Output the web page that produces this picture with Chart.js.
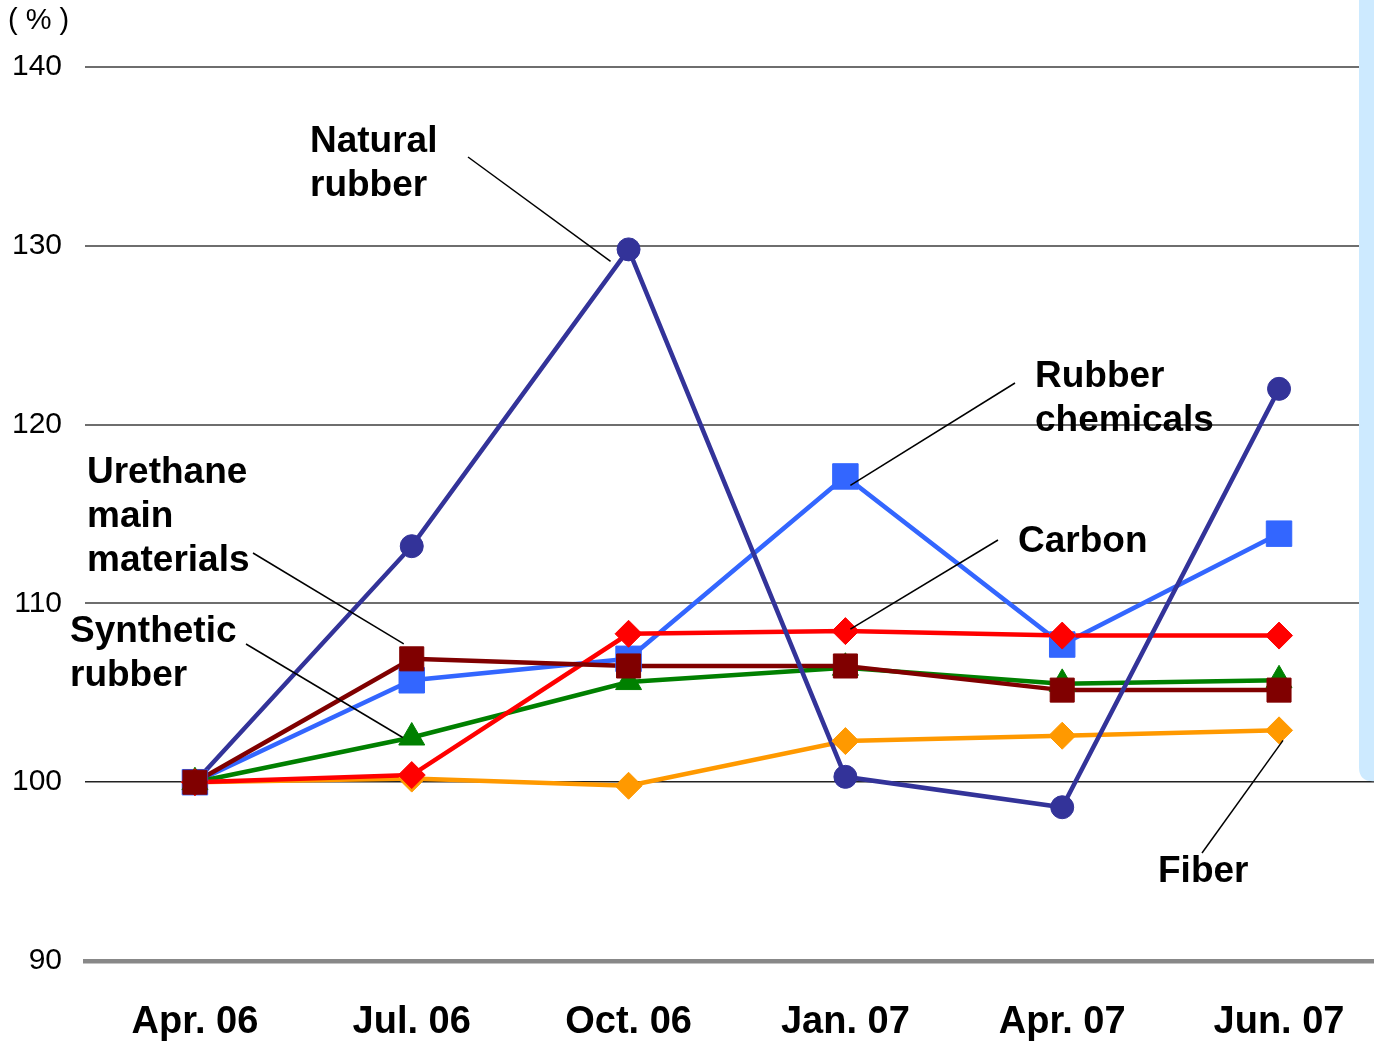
<!DOCTYPE html>
<html>
<head>
<meta charset="utf-8">
<script src="https://cdn.jsdelivr.net/npm/chart.js@4.4.1/dist/chart.umd.min.js"></script>
<style>
  html, body { margin: 0; padding: 0; background: #fff; }
  #wrap { width: 1374px; height: 1042px; position: relative; }
</style>
</head>
<body>
<div id="wrap"><canvas id="chart"></canvas></div>
<script>
// Price index by material, Apr. 06 = 100
const months = ['Apr. 06', 'Jul. 06', 'Oct. 06', 'Jan. 07', 'Apr. 07', 'Jun. 07'];
const naturalRubber = [100, 113.2, 129.8, 100.3, 98.6, 122.0];
const rubberChemicals = [100, 105.7, 106.9, 117.1, 107.7, 113.9];
const carbon = [100, 100.4, 108.3, 108.45, 108.2, 108.2];
const syntheticRubber = [100, 102.5, 105.6, 106.4, 105.5, 105.7];
const urethaneMain = [100, 106.9, 106.5, 106.5, 105.15, 105.15];
const fiber = [100, 100.2, 99.8, 102.3, 102.6, 102.9];
const yTicks = [90, 100, 110, 120, 130, 140];

// markers stacking: first one ends up on top
const series = [
  { name: 'Urethane main materials', data: urethaneMain, color: '#800000', style: 'rect', r: 17 },
  { name: 'Carbon', data: carbon, color: '#ff0000', style: 'rectRot', r: 13.5 },
  { name: 'Synthetic rubber', data: syntheticRubber, color: '#008000', style: 'triangle', r: 15 },
  { name: 'Rubber chemicals', data: rubberChemicals, color: '#3366ff', style: 'rect', r: 18 },
  { name: 'Natural rubber', data: naturalRubber, color: '#333399', style: 'circle', r: 11.5 },
  { name: 'Fiber', data: fiber, color: '#ff9900', style: 'rectRot', r: 13.5 }
];
// lines: natural rubber drawn over the other lines
const lineOrder = { 'Natural rubber': 10, 'Urethane main materials': 11, 'Carbon': 12,
  'Synthetic rubber': 13, 'Rubber chemicals': 14, 'Fiber': 15 };

const toXY = arr => arr.map((v, i) => ({ x: i, y: v }));

const datasets = [];
series.forEach((s, k) => {
  datasets.push({
    label: s.name,
    data: toXY(s.data),
    borderColor: s.color,
    borderWidth: 4.5,
    pointRadius: 0,
    pointHoverRadius: 0,
    order: lineOrder[s.name]
  });
  datasets.push({
    label: s.name + ' markers',
    data: toXY(s.data),
    showLine: false,
    backgroundColor: s.color,
    borderColor: s.color,
    pointStyle: s.style,
    pointRadius: s.r,
    pointHoverRadius: s.r,
    pointBorderWidth: 1,
    order: k
  });
});

// callouts: text block + leader line to a data point
const callouts = [
  { lines: ['Natural', 'rubber'], x: 310, y: 152, from: [468, 157], series: 'Natural rubber', idx: 2, off: [-18, 12] },
  { lines: ['Rubber', 'chemicals'], x: 1035, y: 387, from: [1015, 383], series: 'Rubber chemicals', idx: 3, off: [5, 9] },
  { lines: ['Carbon'], x: 1018, y: 552, from: [998, 540], series: 'Carbon', idx: 3, off: [5, -2] },
  { lines: ['Urethane', 'main', 'materials'], x: 87, y: 483, from: [253, 553], series: 'Urethane main materials', idx: 1, off: [-8, -15] },
  { lines: ['Synthetic', 'rubber'], x: 70, y: 642, from: [246, 644], series: 'Synthetic rubber', idx: 1, off: [-9, 0] },
  { lines: ['Fiber'], x: 1158, y: 882, from: [1202, 853], series: 'Fiber', idx: 5, off: [4, 10] }
];

const slidePanel = {
  id: 'slidePanel',
  beforeDatasetsDraw(chart) {
    const ctx = chart.ctx;
    const x0 = 1359, x1 = chart.width, y1 = chart.scales.y.getPixelForValue(100) - 1, rad = 14;
    ctx.save();
    ctx.fillStyle = '#cdeaff';
    ctx.beginPath();
    ctx.moveTo(x0, 0);
    ctx.lineTo(x1, 0);
    ctx.lineTo(x1, y1);
    ctx.lineTo(x0 + rad, y1);
    ctx.quadraticCurveTo(x0, y1, x0, y1 - rad);
    ctx.closePath();
    ctx.fill();
    ctx.restore();
  }
};

const annotations = {
  id: 'annotations',
  afterDraw(chart) {
    const ctx = chart.ctx;
    const xs = chart.scales.x, ys = chart.scales.y;
    ctx.save();
    // unit label
    ctx.fillStyle = '#000';
    ctx.font = '29px "Liberation Sans", Arial, sans-serif';
    ctx.textBaseline = 'middle';
    ctx.textAlign = 'left';
    ctx.fillText('( % )', 8, 21);

    ctx.font = 'bold 37px "Liberation Sans", Arial, sans-serif';
    ctx.textBaseline = 'alphabetic';
    callouts.forEach(c => {
      c.lines.forEach((t, i) => ctx.fillText(t, c.x, c.y + i * 44));
      const s = series.find(q => q.name === c.series);
      const px = xs.getPixelForValue(c.idx) + c.off[0];
      const py = ys.getPixelForValue(s.data[c.idx]) + c.off[1];
      ctx.strokeStyle = '#000';
      ctx.lineWidth = 1.5;
      ctx.beginPath();
      ctx.moveTo(c.from[0], c.from[1]);
      ctx.lineTo(px, py);
      ctx.stroke();
    });
    ctx.restore();
  }
};

new Chart(document.getElementById('chart'), {
  type: 'line',
  data: { datasets },
  plugins: [slidePanel, annotations],
  options: {
    responsive: true,
    maintainAspectRatio: false,
    animation: false,
    layout: { autoPadding: false, padding: { top: 67, left: 0, right: 0, bottom: 0 } },
    plugins: {
      legend: { display: false },
      tooltip: { enabled: false }
    },
    scales: {
      x: {
        type: 'linear',
        min: -0.507,
        max: 5.438,
        afterBuildTicks: s => { s.ticks = months.map((_, i) => ({ value: i })); },
        afterFit: s => { s.height = 81; s.paddingLeft = 0; s.paddingRight = 0; },
        grid: { display: false, drawTicks: false },
        border: { display: true, color: '#888888', width: 4.5 },
        ticks: {
          padding: 39,
          maxRotation: 0,
          autoSkip: false,
          color: '#000',
          font: { family: '"Liberation Sans", Arial, sans-serif', size: 38, weight: 'bold' },
          callback: v => months[v]
        }
      },
      y: {
        min: 90,
        max: 140,
        afterBuildTicks: s => { s.ticks = yTicks.map(v => ({ value: v })); },
        afterFit: s => { s.width = 85; },
        grid: {
          drawTicks: false,
          color: c => c.tick.value === 90 ? 'rgba(0,0,0,0)' : (c.tick.value === 100 ? '#222222' : '#6e6e6e'),
          lineWidth: c => c.tick.value === 100 ? 1.5 : 2
        },
        border: { display: false },
        ticks: {
          padding: 23,
          color: '#000',
          font: { family: '"Liberation Sans", Arial, sans-serif', size: 30 }
        }
      }
    }
  }
});
</script>
</body>
</html>
